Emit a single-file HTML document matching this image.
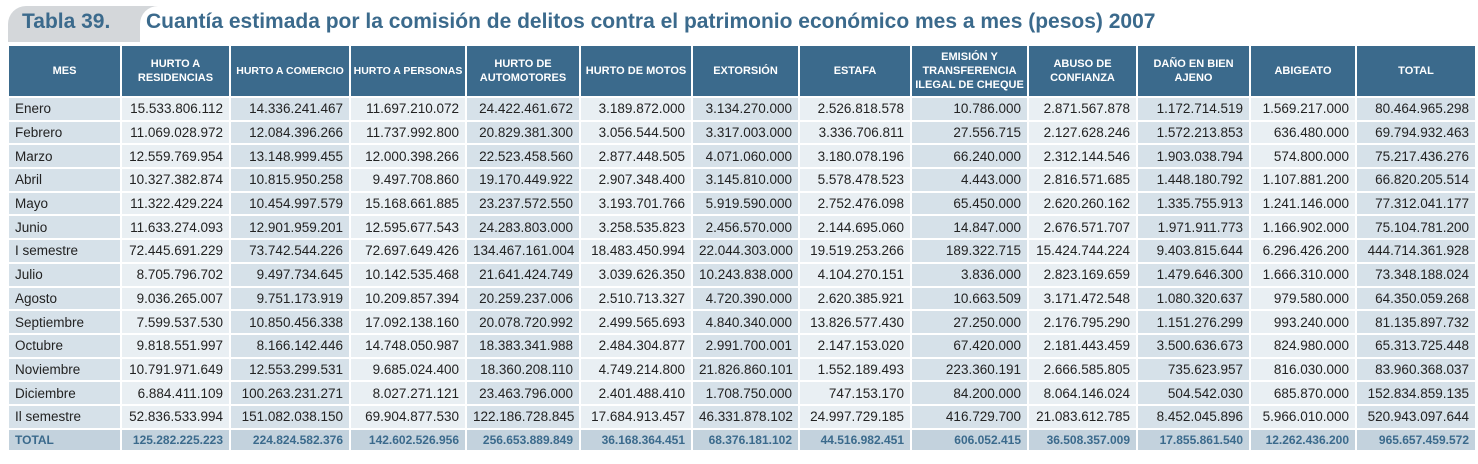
<!DOCTYPE html>
<html><head><meta charset="utf-8">
<style>
body{margin:0;width:1478px;height:464px;background:#fff;font-family:"Liberation Sans",sans-serif;overflow:hidden;position:relative}
.tab{position:absolute;left:8px;top:6px;width:150px;height:36px;background:#d4d7da;border-radius:18px 0 0 0}
.tabw{position:absolute;left:140px;top:6px;width:40px;height:36px;background:#fff;border-radius:18px 0 0 0}
.t1{position:absolute;left:22px;top:10px;font-size:21px;font-weight:bold;color:#3b6a8c}
.t2{position:absolute;left:146px;top:10px;font-size:21px;font-weight:bold;color:#3b6a8c;white-space:nowrap;transform-origin:0 0}
table{position:absolute;left:7px;top:44px;border-collapse:collapse;table-layout:fixed;width:1468px}
td,th{border:2px solid #fff;padding:0 6px;font-size:13.5px;white-space:nowrap;overflow:hidden}
th{background:#3b6a8c;color:#fff;font-size:11px;font-weight:bold;height:50px;text-align:center;line-height:14px;white-space:normal;padding:0 2px}
th.nw{white-space:nowrap;font-size:10.5px;padding:0}
td{height:21.7px;text-align:right;color:#222;background:#e9eff3}
td:nth-child(odd){background:#d6e1e9}
td:first-child{text-align:left}
tr.tot td{background:#c3d2dd;color:#3b6a8c;font-weight:bold;font-size:12px;height:20.5px}
</style></head><body>
<div class="tab"></div>
<div class="tabw"></div>
<div class="t1">Tabla 39.</div>
<div class="t2">Cuantía estimada por la comisión de delitos contra el patrimonio económico mes a mes (pesos) 2007</div>
<table>
<colgroup><col style="width:113px"><col style="width:109px"><col style="width:120px"><col style="width:116px"><col style="width:114px"><col style="width:112px"><col style="width:107px"><col style="width:112px"><col style="width:117px"><col style="width:109px"><col style="width:113px"><col style="width:106px"><col style="width:120px"></colgroup>
<tr><th>MES</th><th>HURTO A RESIDENCIAS</th><th class="nw">HURTO A COMERCIO</th><th class="nw">HURTO A PERSONAS</th><th>HURTO DE AUTOMOTORES</th><th>HURTO DE MOTOS</th><th>EXTORSIÓN</th><th>ESTAFA</th><th>EMISIÓN Y TRANSFERENCIA ILEGAL DE CHEQUE</th><th>ABUSO DE CONFIANZA</th><th>DAÑO EN BIEN AJENO</th><th>ABIGEATO</th><th>TOTAL</th></tr>
<tr><td>Enero</td><td>15.533.806.112</td><td>14.336.241.467</td><td>11.697.210.072</td><td>24.422.461.672</td><td>3.189.872.000</td><td>3.134.270.000</td><td>2.526.818.578</td><td>10.786.000</td><td>2.871.567.878</td><td>1.172.714.519</td><td>1.569.217.000</td><td>80.464.965.298</td></tr>
<tr><td>Febrero</td><td>11.069.028.972</td><td>12.084.396.266</td><td>11.737.992.800</td><td>20.829.381.300</td><td>3.056.544.500</td><td>3.317.003.000</td><td>3.336.706.811</td><td>27.556.715</td><td>2.127.628.246</td><td>1.572.213.853</td><td>636.480.000</td><td>69.794.932.463</td></tr>
<tr><td>Marzo</td><td>12.559.769.954</td><td>13.148.999.455</td><td>12.000.398.266</td><td>22.523.458.560</td><td>2.877.448.505</td><td>4.071.060.000</td><td>3.180.078.196</td><td>66.240.000</td><td>2.312.144.546</td><td>1.903.038.794</td><td>574.800.000</td><td>75.217.436.276</td></tr>
<tr><td>Abril</td><td>10.327.382.874</td><td>10.815.950.258</td><td>9.497.708.860</td><td>19.170.449.922</td><td>2.907.348.400</td><td>3.145.810.000</td><td>5.578.478.523</td><td>4.443.000</td><td>2.816.571.685</td><td>1.448.180.792</td><td>1.107.881.200</td><td>66.820.205.514</td></tr>
<tr><td>Mayo</td><td>11.322.429.224</td><td>10.454.997.579</td><td>15.168.661.885</td><td>23.237.572.550</td><td>3.193.701.766</td><td>5.919.590.000</td><td>2.752.476.098</td><td>65.450.000</td><td>2.620.260.162</td><td>1.335.755.913</td><td>1.241.146.000</td><td>77.312.041.177</td></tr>
<tr><td>Junio</td><td>11.633.274.093</td><td>12.901.959.201</td><td>12.595.677.543</td><td>24.283.803.000</td><td>3.258.535.823</td><td>2.456.570.000</td><td>2.144.695.060</td><td>14.847.000</td><td>2.676.571.707</td><td>1.971.911.773</td><td>1.166.902.000</td><td>75.104.781.200</td></tr>
<tr><td>I semestre</td><td>72.445.691.229</td><td>73.742.544.226</td><td>72.697.649.426</td><td>134.467.161.004</td><td>18.483.450.994</td><td>22.044.303.000</td><td>19.519.253.266</td><td>189.322.715</td><td>15.424.744.224</td><td>9.403.815.644</td><td>6.296.426.200</td><td>444.714.361.928</td></tr>
<tr><td>Julio</td><td>8.705.796.702</td><td>9.497.734.645</td><td>10.142.535.468</td><td>21.641.424.749</td><td>3.039.626.350</td><td>10.243.838.000</td><td>4.104.270.151</td><td>3.836.000</td><td>2.823.169.659</td><td>1.479.646.300</td><td>1.666.310.000</td><td>73.348.188.024</td></tr>
<tr><td>Agosto</td><td>9.036.265.007</td><td>9.751.173.919</td><td>10.209.857.394</td><td>20.259.237.006</td><td>2.510.713.327</td><td>4.720.390.000</td><td>2.620.385.921</td><td>10.663.509</td><td>3.171.472.548</td><td>1.080.320.637</td><td>979.580.000</td><td>64.350.059.268</td></tr>
<tr><td>Septiembre</td><td>7.599.537.530</td><td>10.850.456.338</td><td>17.092.138.160</td><td>20.078.720.992</td><td>2.499.565.693</td><td>4.840.340.000</td><td>13.826.577.430</td><td>27.250.000</td><td>2.176.795.290</td><td>1.151.276.299</td><td>993.240.000</td><td>81.135.897.732</td></tr>
<tr><td>Octubre</td><td>9.818.551.997</td><td>8.166.142.446</td><td>14.748.050.987</td><td>18.383.341.988</td><td>2.484.304.877</td><td>2.991.700.001</td><td>2.147.153.020</td><td>67.420.000</td><td>2.181.443.459</td><td>3.500.636.673</td><td>824.980.000</td><td>65.313.725.448</td></tr>
<tr><td>Noviembre</td><td>10.791.971.649</td><td>12.553.299.531</td><td>9.685.024.400</td><td>18.360.208.110</td><td>4.749.214.800</td><td>21.826.860.101</td><td>1.552.189.493</td><td>223.360.191</td><td>2.666.585.805</td><td>735.623.957</td><td>816.030.000</td><td>83.960.368.037</td></tr>
<tr><td>Diciembre</td><td>6.884.411.109</td><td>100.263.231.271</td><td>8.027.271.121</td><td>23.463.796.000</td><td>2.401.488.410</td><td>1.708.750.000</td><td>747.153.170</td><td>84.200.000</td><td>8.064.146.024</td><td>504.542.030</td><td>685.870.000</td><td>152.834.859.135</td></tr>
<tr><td>Il semestre</td><td>52.836.533.994</td><td>151.082.038.150</td><td>69.904.877.530</td><td>122.186.728.845</td><td>17.684.913.457</td><td>46.331.878.102</td><td>24.997.729.185</td><td>416.729.700</td><td>21.083.612.785</td><td>8.452.045.896</td><td>5.966.010.000</td><td>520.943.097.644</td></tr>
<tr class="tot"><td>TOTAL</td><td>125.282.225.223</td><td>224.824.582.376</td><td>142.602.526.956</td><td>256.653.889.849</td><td>36.168.364.451</td><td>68.376.181.102</td><td>44.516.982.451</td><td>606.052.415</td><td>36.508.357.009</td><td>17.855.861.540</td><td>12.262.436.200</td><td>965.657.459.572</td></tr>
</table>
</body></html>
